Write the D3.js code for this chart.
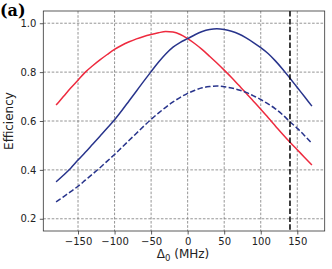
<!DOCTYPE html>
<html>
<head>
<meta charset="utf-8">
<script src="https://cdn.jsdelivr.net/npm/d3@7"></script>
<style>
  html, body { margin: 0; padding: 0; background: #fff; }
  svg { display: block; font-family: "DejaVu Sans", sans-serif; }
</style>
</head>
<body>
<script>
'use strict';

// detuning values (MHz)
const detuning = d3.range(-180, 171, 10);

const redEff = [
  0.665, 0.700, 0.735, 0.767, 0.800, 0.826, 0.850, 0.872, 0.893, 0.910,
  0.924, 0.936, 0.946, 0.954, 0.961, 0.966, 0.964, 0.954, 0.937, 0.916,
  0.892, 0.865, 0.837, 0.808, 0.778, 0.746, 0.714, 0.681, 0.648, 0.614,
  0.580, 0.546, 0.513, 0.482, 0.451, 0.420
];

const blueEff = [
  0.351, 0.378, 0.407, 0.440, 0.472, 0.505, 0.538, 0.571, 0.605, 0.643,
  0.683, 0.723, 0.763, 0.802, 0.840, 0.874, 0.902, 0.922, 0.937, 0.953,
  0.966, 0.974, 0.977, 0.974, 0.967, 0.956, 0.940, 0.921, 0.900, 0.876,
  0.846, 0.812, 0.775, 0.737, 0.699, 0.661
];

const blueDashEff = [
  0.269, 0.290, 0.311, 0.333, 0.358, 0.383, 0.409, 0.436, 0.463, 0.492,
  0.521, 0.550, 0.579, 0.607, 0.632, 0.656, 0.678, 0.697, 0.713, 0.726,
  0.736, 0.741, 0.743, 0.740, 0.735, 0.727, 0.717, 0.703, 0.688, 0.670,
  0.650, 0.625, 0.597, 0.570, 0.540, 0.508
];

const markerX = 140;

const xTicks = [-150, -100, -50, 0, 50, 100, 150];
const yTicks = [0.2, 0.4, 0.6, 0.8, 1.0];

const W = 332, H = 269;
const plotL = 43.3, plotR = 324.7, plotT = 11, plotB = 231;

const x = d3.scaleLinear().domain([-197.5, 187.5]).range([plotL, plotR]);
const y = d3.scaleLinear().domain([0.15, 1.05]).range([plotB, plotT]);

const svg = d3.select('body').append('svg')
  .attr('width', W)
  .attr('height', H);

// grid
const grid = svg.append('g')
  .attr('stroke', '#7a7a7a')
  .attr('stroke-width', 0.8)
  .attr('stroke-dasharray', '2.6,1.6');

grid.selectAll('.gx').data(xTicks).enter().append('line')
  .attr('x1', d => x(d)).attr('x2', d => x(d))
  .attr('y1', plotT).attr('y2', plotB);

grid.selectAll('.gy').data(yTicks).enter().append('line')
  .attr('x1', plotL).attr('x2', plotR)
  .attr('y1', d => y(d)).attr('y2', d => y(d));

// curves
const line = d3.line()
  .curve(d3.curveMonotoneX)
  .x(d => x(d[0]))
  .y(d => y(d[1]));

function addCurve(vals, color, dash) {
  svg.append('path')
    .datum(detuning.map((d, i) => [d, vals[i]]))
    .attr('fill', 'none')
    .attr('stroke', color)
    .attr('stroke-width', 1.5)
    .attr('stroke-dasharray', dash)
    .attr('d', line);
}

addCurve(redEff, '#ee2a3e', null);
addCurve(blueEff, '#28348c', null);
addCurve(blueDashEff, '#28348c', '5.5,2.4');

// vertical marker
svg.append('line')
  .attr('x1', x(markerX)).attr('x2', x(markerX))
  .attr('y1', plotT).attr('y2', plotB)
  .attr('stroke', '#000')
  .attr('stroke-width', 1.5)
  .attr('stroke-dasharray', '5.5,2.4');

// axes
const xAxis = svg.append('g')
  .attr('transform', 'translate(0,' + plotB + ')')
  .call(d3.axisBottom(x).tickValues(xTicks).tickSize(3.5).tickPadding(3.5)
    .tickFormat(d => d < 0 ? '\u2212' + Math.abs(d) : d));

const yAxis = svg.append('g')
  .attr('transform', 'translate(' + plotL + ',0)')
  .call(d3.axisLeft(y).tickValues(yTicks).tickSize(3.5).tickPadding(3.5)
    .tickFormat(d3.format('.1f')));

[xAxis, yAxis].forEach(a => {
  a.select('.domain').remove();
  a.selectAll('text')
    .attr('font-size', 10)
    .attr('font-family', '"DejaVu Sans", sans-serif')
    .attr('fill', '#222');
  a.selectAll('line').attr('stroke', '#333').attr('stroke-width', 0.8);
});

// frame
svg.append('rect')
  .attr('x', plotL).attr('y', plotT)
  .attr('width', plotR - plotL).attr('height', plotB - plotT)
  .attr('fill', 'none')
  .attr('stroke', '#333')
  .attr('stroke-width', 0.8);

// labels
const xl = svg.append('text')
  .attr('x', (plotL + plotR) / 2 - 1)
  .attr('y', 258)
  .attr('text-anchor', 'middle')
  .attr('font-size', 12)
  .attr('fill', '#222');
xl.append('tspan').text('\u0394');
xl.append('tspan').attr('font-size', 8.5).attr('dy', 2.5).text('0');
xl.append('tspan').attr('dy', -2.5).text(' (MHz)');

svg.append('text')
  .attr('transform', 'translate(13,' + ((plotT + plotB) / 2) + ') rotate(-90)')
  .attr('text-anchor', 'middle')
  .attr('font-size', 12)
  .attr('fill', '#222')
  .text('Efficiency');

svg.append('text')
  .attr('x', 0)
  .attr('y', 16)
  .attr('font-family', '"DejaVu Serif", serif')
  .attr('font-weight', 'bold')
  .attr('font-size', 16)
  .attr('fill', '#000')
  .text('(a)');
</script>
</body>
</html>
